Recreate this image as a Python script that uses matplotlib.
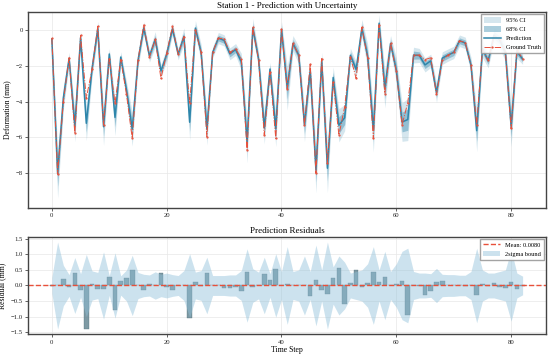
import numpy as np
import matplotlib
matplotlib.use("Agg")
import matplotlib.pyplot as plt

plt.rcParams['font.family'] = ['Liberation Serif', 'DejaVu Serif']

time_step = list(range(83))

ground_truth = [
    -0.47, -8.05, -4.00, -1.55, -5.77, -0.30, -3.80, -2.20, 0.20, -5.30,
    -1.60, -4.10, -1.65, -3.60, -6.05, -1.70, 0.28, -1.50, -0.52, -2.70,
    -1.30, 0.20, -1.35, -0.37, -4.10, 0.00, -1.25, -5.95, -1.25, -0.45,
    -0.50, -1.25, -1.05, -1.60, -6.70, 0.15, -1.65, -5.85, -2.35, -6.05,
    0.03, -3.30, -0.75, -1.40, -5.30, -1.90, -8.00, -1.60, -7.45, -2.90,
    -5.87, -4.30, -1.50, -2.70, 0.15, -1.55, -6.05, 0.28, -3.55, -0.75,
    -2.30, -5.30, -4.05, -1.40, -1.40, -1.65, -1.55, -3.60, -1.70, -1.40,
    -1.25, -0.60, -0.70, -1.95, -5.30, -1.10, -1.70, -0.37, -0.50, -1.20,
    -5.50, -1.10, -1.60,
]

residual = [
    -0.03, 0.03, 0.21, -0.04, 0.41, -0.13, -1.41, 0.05, -0.12, -0.10,
    0.26, -0.78, 0.14, 0.24, 0.51, 0.00, -0.16, 0.04, 0.00, 0.41,
    -0.05, -0.13, 0.00, 0.02, -1.05, 0.11, -0.02, 0.41, 0.00, 0.00,
    -0.08, -0.08, -0.04, -0.17, 0.43, -0.04, 0.03, 0.38, 0.17, 0.52,
    0.00, 0.05, 0.00, 0.00, 0.00, -0.35, 0.17, -0.13, -0.27, 0.25,
    0.55, -0.60, 0.09, 0.50, -0.05, 0.09, 0.45, 0.10, 0.27, 0.00,
    0.05, 0.16, -0.95, 0.00, -0.02, -0.30, -0.17, 0.10, 0.13, 0.00,
    0.00, 0.00, -0.02, 0.00, -0.32, 0.05, -0.02, 0.08, -0.05, -0.07,
    0.12, -0.10, -0.02,
]

two_sigma = [
    0.26, 1.40, 0.65, 0.35, 0.90, 0.38, 1.00, 0.47, 0.42, 1.08,
    0.32, 1.05, 0.31, 0.50, 0.97, 0.42, 0.36, 0.34, 0.44, 0.36,
    0.40, 0.35, 0.32, 0.48, 1.02, 0.43, 0.48, 0.91, 0.32, 0.32,
    0.32, 0.34, 0.34, 0.48, 1.18, 0.54, 0.43, 0.91, 0.38, 1.02,
    0.45, 1.25, 0.45, 0.50, 0.95, 0.45, 1.30, 0.50, 1.40, 0.60,
    0.95, 0.75, 0.40, 0.45, 0.50, 0.70, 1.25, 0.50, 1.10, 0.45,
    0.70, 1.10, 1.20, 0.45, 0.40, 0.40, 0.38, 0.55, 0.36, 0.35,
    0.35, 0.33, 0.33, 0.45, 1.20, 0.50, 0.40, 0.40, 0.45, 0.50,
    1.15, 0.40, 0.30,
]

mean_residual = 0.0080

x = np.array(time_step)
gt = np.array(ground_truth)
res = np.array(residual)
sigma = np.array(two_sigma) / 2.0
pred = gt + res

blue = '#2E86AB'
red = '#E8503A'

fig = plt.figure(figsize=(5.5, 3.57), dpi=100)
ax1 = fig.add_axes([0.0515, 0.418, 0.9415, 0.5475])
ax2 = fig.add_axes([0.0515, 0.0636, 0.9415, 0.2734])

for ax in (ax1, ax2):
    ax.set_facecolor('white')
    ax.grid(True, color='#e8e8e8', linewidth=0.5)
    ax.set_axisbelow(True)
    for s in ax.spines.values():
        s.set_color('#444444')
        s.set_linewidth(1.0)
    ax.tick_params(labelsize=4.8, length=2, width=0.5, colors='#222222', pad=2)

ax1.fill_between(x, pred - 1.96 * sigma, pred + 1.96 * sigma, color=blue,
                 alpha=0.2, linewidth=0, label='95% CI')
ax1.fill_between(x, pred - sigma, pred + sigma, color=blue,
                 alpha=0.4, linewidth=0, label='68% CI')
ax1.plot(x, pred, color=blue, linewidth=1.1, label='Prediction')
ax1.plot(x, gt, color=red, linestyle='-.', linewidth=0.7, marker='o',
         markersize=0.6, label='Ground Truth')
ax1.set_title('Station 1 - Prediction with Uncertainty', fontsize=6.5, pad=3)
ax1.set_ylabel('Deformation (mm)', fontsize=5.6, labelpad=3)
ax1.set_xticks([0, 20, 40, 60, 80])
ax1.set_yticks([0, -2, -4, -6, -8])
ax1.set_xlim(-4.1, 86.1)
ax1.set_ylim(-9.93, 0.99)
ax1.legend(loc='upper right', fontsize=4.6, frameon=True, fancybox=False,
           edgecolor='#999999', framealpha=0.9, borderpad=0.5,
           handlelength=2.6, handleheight=1.0, labelspacing=0.45,
           borderaxespad=0.3)

ax2.bar(x, res, width=0.8, color='#5E818E', alpha=0.8, edgecolor='#4d6c77',
        linewidth=0.3)
ax2.axhline(mean_residual, color=red, linestyle='--', linewidth=1.0,
            label=f'Mean: {mean_residual:.4f}')
ax2.fill_between(x, -2 * sigma, 2 * sigma, color='#8fc0da', alpha=0.45,
                 linewidth=0, label='2sigma bound')
ax2.set_title('Prediction Residuals', fontsize=6.5, pad=3)
ax2.set_xlabel('Time Step', fontsize=5.6, labelpad=1)
ax2.set_ylabel('Residual (mm)', fontsize=5.6, labelpad=3)
ax2.set_xticks([0, 20, 40, 60, 80])
ax2.set_yticks([-1.5, -1.0, -0.5, 0.0, 0.5, 1.0, 1.5])
ax2.set_xlim(-4.1, 86.1)
ax2.set_ylim(-1.57, 1.57)
ax2.legend(loc='upper right', fontsize=4.6, frameon=True, fancybox=False,
           edgecolor='#999999', framealpha=0.9, borderpad=0.5,
           handlelength=2.6, handleheight=1.0, labelspacing=0.45,
           borderaxespad=0.3)

fig.savefig('out.png', dpi=100, facecolor='white')
